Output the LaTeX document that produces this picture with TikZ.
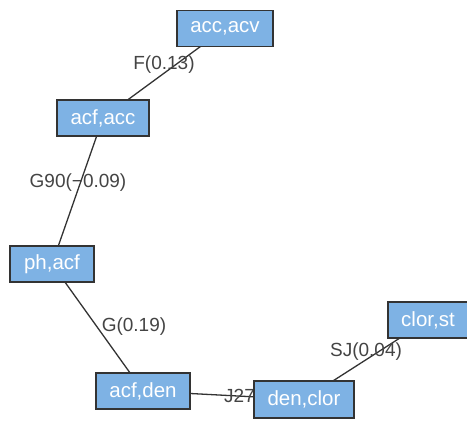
\documentclass[tikz,border=0pt]{standalone}
\usepackage{fontspec}
\setmainfont{Liberation Sans}
\usetikzlibrary{backgrounds}
\definecolor{boxfill}{HTML}{7EB2E4}
\definecolor{edgecol}{HTML}{333333}
\definecolor{labcol}{HTML}{444444}
\tikzset{
  vbox/.style={draw=edgecol, line width=1.1pt, fill=boxfill, text=white,
    font=\fontsize{20.5}{24}\selectfont, minimum height=36pt, inner sep=0pt},
  elink/.style={draw=edgecol, line width=1.3pt},
  elab/.style={text=labcol, font=\fontsize{19}{22}\selectfont, inner sep=0pt}
}
\begin{document}
\begin{tikzpicture}[x=1pt,y=-1pt]
\useasboundingbox (0,0) rectangle (467,425);
\node[vbox, minimum width=96pt] (aa) at (225,28.5) {acc,acv};
\node[vbox, minimum width=92pt] (ac) at (103,118) {acf,acc};
\node[vbox, minimum width=84pt] (pa) at (52,264) {ph,acf};
\node[vbox, minimum width=94pt] (ad) at (143,391) {acf,den};
\node[vbox, minimum width=100pt, minimum height=37pt] (dc) at (304,399.5) {den,clor};
\node[vbox, minimum width=80pt] (cs) at (428,320) {clor,st};
\begin{scope}[on background layer]
  \draw[elink] (aa.center) -- (ac.center);
  \draw[elink] (ac.center) -- (pa.center);
  \draw[elink] (pa.center) -- (ad.center);
  \draw[elink] (ad.center) -- (dc.center);
  \draw[elink] (dc.center) -- (cs.center);
  \node[elab] (l1) at (164,65) {F(0.13)};
  \node[elab] (l2) at (78,183) {G90(\textminus0.09)};
  \node[elab] (l3) at (134,327) {G(0.19)};
  \node[elab, anchor=west] (l4) at (224,396) {J27};
  \node[elab] (l5) at (366,352) {SJ(0.04)};
\end{scope}
\end{tikzpicture}
\end{document}
